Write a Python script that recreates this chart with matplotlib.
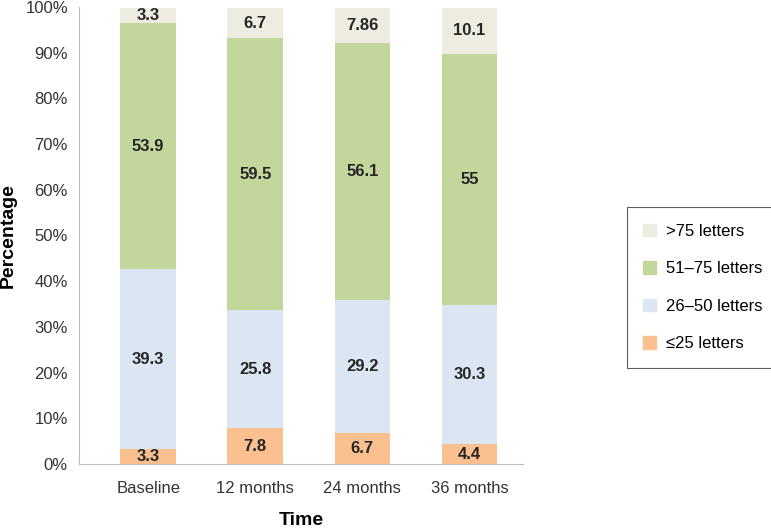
import numpy as np
import matplotlib.pyplot as plt
from matplotlib.patches import Patch

plt.rcParams['font.family'] = ['Liberation Sans', 'DejaVu Sans']

times = ["Baseline", "12 months", "24 months", "36 months"]
le25 = [3.3, 7.8, 6.7, 4.4]
l26_50 = [39.3, 25.8, 29.2, 30.3]
l51_75 = [53.9, 59.5, 56.1, 55]
gt75 = [3.3, 6.7, 7.86, 10.1]

series = [le25, l26_50, l51_75, gt75]
names = ["\u226425 letters", "26\u201350 letters", "51\u201375 letters", ">75 letters"]
colors = ["#FAC090", "#DCE6F2", "#C3D69B", "#EEECE1"]

fig = plt.figure(figsize=(7.71, 5.31), dpi=100)
ax = fig.add_axes([0.1025, 0.126, 0.576, 0.861])

x = np.arange(len(times))
bottom = np.zeros(len(times))
for vals, c in zip(series, colors):
    vals = np.array(vals)
    ax.bar(x, vals, 0.52, bottom=bottom, color=c, linewidth=0)
    for xi, b, v in zip(x, bottom, vals):
        ax.text(xi, b + v / 2, f"{v:g}", ha="center", va="center",
                fontsize=12, fontweight="bold", color="#262626")
    bottom += vals

ax.set_ylim(0, 100)
ax.set_xlim(-0.645, 3.5)
ax.set_yticks(np.arange(0, 101, 10))
ax.set_yticklabels([f"{v}%" for v in range(0, 101, 10)])
ax.set_xticks(x)
ax.set_xticklabels(times)
ax.tick_params(length=0, labelsize=12, labelcolor="#333333", pad=8)
ax.tick_params(axis="x", pad=12)
for s in ["top", "right"]:
    ax.spines[s].set_visible(False)
for s in ["left", "bottom"]:
    ax.spines[s].set_color("#BBBBBB")

ax.set_ylabel("Percentage", fontsize=14, fontweight="bold", labelpad=6)
ax.set_xlabel("Time", fontsize=14, fontweight="bold", labelpad=12)

handles = [Patch(color=c, label=n) for c, n in zip(colors, names)][::-1]
leg = fig.legend(handles=handles, loc="upper left", bbox_to_anchor=(0.813, 0.61),
                 frameon=True, fontsize=12, handlelength=0.75, handleheight=0.75,
                 labelspacing=1.35, borderpad=1.0, handletextpad=0.6, fancybox=False,
                 borderaxespad=0)
leg.get_frame().set_edgecolor("#333333")
leg.get_frame().set_linewidth(0.8)

fig.savefig("out.png", dpi=100)
